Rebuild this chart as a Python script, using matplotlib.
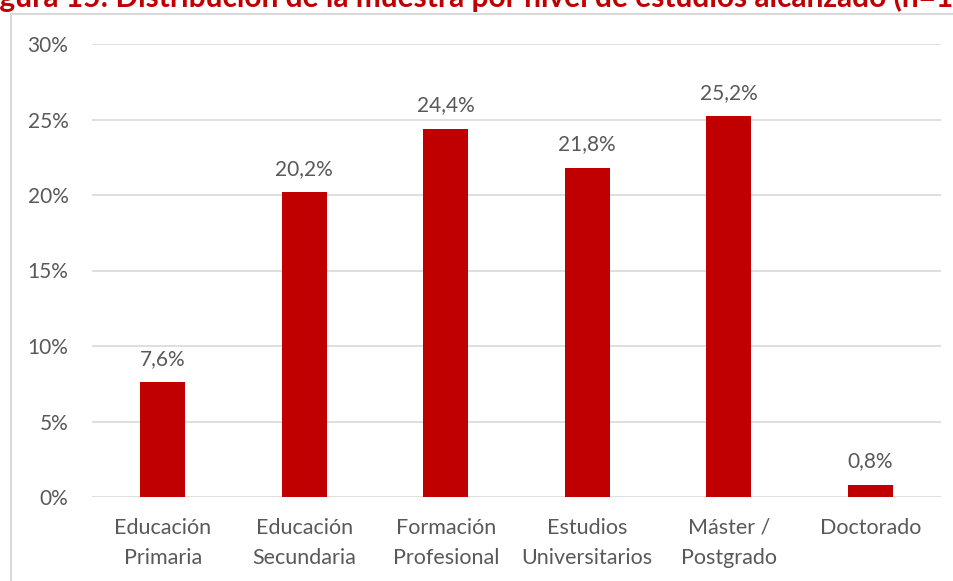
import matplotlib
matplotlib.use('Agg')
import matplotlib.pyplot as plt
from matplotlib.patches import Rectangle
import numpy as np

categorias = ['Educación\nPrimaria', 'Educación\nSecundaria', 'Formación\nProfesional',
              'Estudios\nUniversitarios', 'Máster /\nPostgrado', 'Doctorado']
porcentajes = [7.6, 20.2, 24.4, 21.8, 25.2, 0.8]
yticks = [0, 5, 10, 15, 20, 25, 30]
titulo = 'Figura 15: Distribución de la muestra por nivel de estudios alcanzado (n=1'

rojo = '#C00000'
gris_txt = '#595959'
gris_lin = '#D9D9D9'

plt.rcParams['font.family'] = ['Lato', 'DejaVu Sans']

W, H = 954, 581
fig = plt.figure(figsize=(W / 100, H / 100), dpi=100)
ax = fig.add_axes([92 / W, 1 - 497 / H, 849 / W, 453 / H])

x = np.arange(len(categorias))
ax.bar(x, porcentajes, width=0.318, color=rojo, zorder=3)
for xi, v in zip(x, porcentajes):
    ax.annotate(f'{v:.1f}%'.replace('.', ','), xy=(xi, v), xytext=(0, 12.5),
                textcoords='offset points', ha='center', va='baseline',
                fontsize=15, color=gris_txt)

ax.set_xlim(-0.5, len(categorias) - 0.5)
ax.set_ylim(0, 30)
ax.set_yticks(yticks)
ax.set_yticklabels([f'{t}%' for t in yticks])
ax.set_xticks(x)
ax.set_xticklabels(categorias, linespacing=1.65)
ax.tick_params(axis='y', length=0, pad=17, labelsize=15, labelcolor=gris_txt)
ax.tick_params(axis='x', length=0, pad=15, labelsize=15.5, labelcolor=gris_txt)
ax.grid(axis='y', color=gris_lin, linewidth=1.2, zorder=0)
for s in ax.spines.values():
    s.set_visible(False)

# chart border (partly outside the image)
fig.patches.append(Rectangle((11 / W, -0.1), 1.2, 1 - 13.5 / H + 0.1,
                             transform=fig.transFigure, fill=False,
                             edgecolor=gris_lin, linewidth=1.5))

# title, cut at the top of the image
yb = 1 - 7.5 / H
t = fig.text(0, yb, titulo, fontsize=20, fontweight='bold', color=rojo, va='baseline')
pre = fig.text(0, yb, 'Fi', fontsize=20, fontweight='bold', color=rojo, va='baseline', alpha=0)
r = fig.canvas.get_renderer()
w_full = t.get_window_extent(r).width
w_pre = pre.get_window_extent(r).width
fs = 20 * 954 / (w_full - w_pre)
t.set_fontsize(fs)
pre.set_fontsize(fs)
w_pre = pre.get_window_extent(r).width
t.set_x(-(w_pre + 1) / W)
pre.remove()

fig.savefig('out.png', dpi=100)
